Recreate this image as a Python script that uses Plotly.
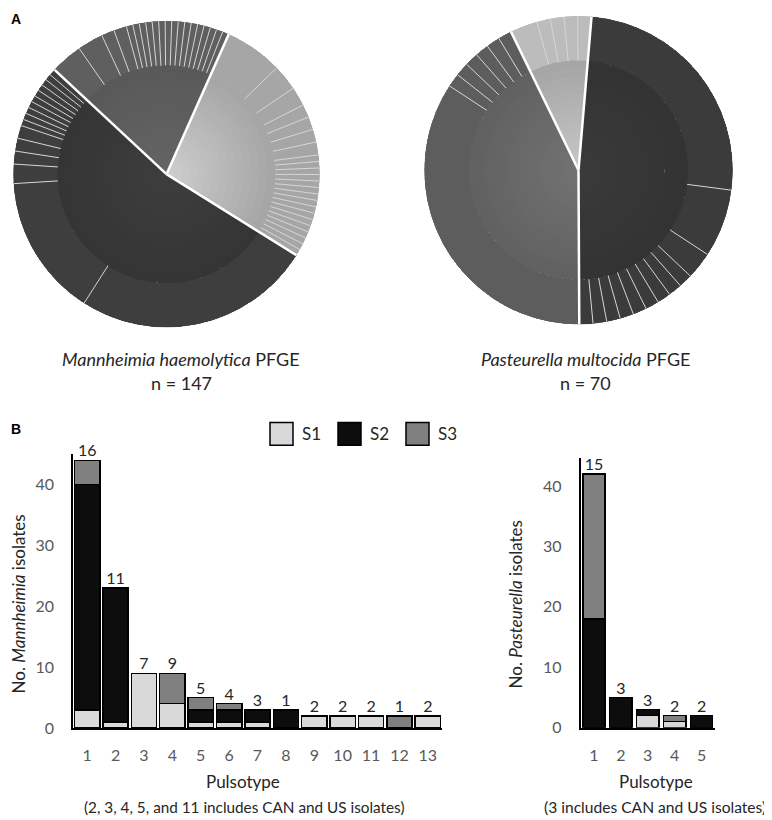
import plotly.graph_objects as go

# ---------------- data ----------------
serogroups = ["S1", "S2", "S3"]

# Panel A: outer ring = isolates per pulsotype within each group (inner pie = group totals)
mh_ring_s1 = [9, 4, 3, 2, 2, 2, 2, 1, 1, 1, 1, 1, 1, 1, 1, 1, 1, 1, 1, 1, 1, 1, 1]
mh_ring_s2 = [37, 22, 3, 2, 2, 2, 1, 1, 1, 1, 1, 1, 1, 1, 1, 1]
mh_ring_s3 = [5, 4, 2, 2, 1, 1, 1, 1, 1, 1, 1, 1, 1, 1, 1, 1, 1, 1, 1, 1]
pm_ring_s1 = [2, 1, 1, 1, 1]
pm_ring_s2 = [18, 5, 2, 1, 1, 1, 1, 1, 1, 1, 1, 1]
pm_ring_s3 = [24, 1, 1, 1, 1, 1, 1]

mh_title = "<i>Mannheimia haemolytica</i> PFGE"
pm_title = "<i>Pasteurella multocida</i> PFGE"
mh_n = "n = 147"
pm_n = "n = 70"

# Panel B: stacked bars
mh_pulsotypes = [1, 2, 3, 4, 5, 6, 7, 8, 9, 10, 11, 12, 13]
mh_s1 = [3, 1, 9, 4, 1, 1, 1, 0, 2, 2, 2, 0, 2]
mh_s2 = [37, 22, 0, 0, 2, 2, 2, 3, 0, 0, 0, 0, 0]
mh_s3 = [4, 0, 0, 5, 2, 1, 0, 0, 0, 0, 0, 2, 0]
mh_labels = ["16", "11", "7", "9", "5", "4", "3", "1", "2", "2", "2", "1", "2"]

pm_pulsotypes = [1, 2, 3, 4, 5]
pm_s1 = [0, 0, 2, 1, 0]
pm_s2 = [18, 5, 1, 0, 2]
pm_s3 = [24, 0, 0, 1, 0]
pm_labels = ["15", "3", "3", "2", "2"]

mh_yticks = [0, 10, 20, 30, 40]
pm_yticks = [0, 10, 20, 30, 40]

# ---------------- style ----------------
XOFF = 8                     # horizontal page margin observed in the viewer
W, H = 772 - XOFF, 820
FONT = "Lato, Calibri, sans-serif"
TXT = "#262626"
TICK = "#595959"
bar_colors = {"S1": "#d9d9d9", "S2": "#0d0d0d", "S3": "#808080"}
INNER_R = 0.71
N_BANDS = 14


def px(x):
    return (x - XOFF) / W


def py(y):
    return 1 - y / H


def mix(c1, c2, t):
    a = [int(c1[i:i + 2], 16) for i in (1, 3, 5)]
    b = [int(c2[i:i + 2], 16) for i in (1, 3, 5)]
    return "#" + "".join("%02x" % round(a[k] + (b[k] - a[k]) * t) for k in range(3))


fig = go.Figure()


def add_pie(rings, inner_centre, inner_edge, outer_cols, subplot):
    total = sum(sum(r) for r in rings)
    deg = 360.0 / total
    in_theta, in_w, in_base, in_c = [], [], [], []
    outer_theta, outer_w, outer_c = [], [], []
    seg_lines_r, seg_lines_t = [], []
    grp_lines_r, grp_lines_t = [], []
    pos = 0.0
    dr = INNER_R / N_BANDS
    for gi, ring in enumerate(rings):
        gsize = sum(ring) * deg
        for b in range(N_BANDS):
            in_theta.append(pos + gsize / 2)
            in_w.append(gsize)
            in_base.append(b * dr)
            in_c.append(mix(inner_centre[gi], inner_edge[gi], b / (N_BANDS - 1)))
        grp_lines_r += [0, 1, None]
        grp_lines_t += [pos, pos, None]
        p = pos
        for k, v in enumerate(ring):
            w = v * deg
            outer_theta.append(p + w / 2)
            outer_w.append(w)
            outer_c.append(outer_cols[gi])
            if k > 0:
                seg_lines_r += [INNER_R, 1, None]
                seg_lines_t += [p, p, None]
            p += w
        pos += gsize
    fig.add_trace(go.Barpolar(
        theta=outer_theta, width=outer_w, r=[1 - INNER_R] * len(outer_theta),
        base=INNER_R, marker=dict(color=outer_c, line=dict(color=outer_c, width=0.5)),
        subplot=subplot, showlegend=False, hoverinfo="skip"))
    fig.add_trace(go.Barpolar(
        theta=in_theta, width=in_w, r=[dr] * len(in_theta), base=in_base,
        marker=dict(color=in_c, line=dict(color=in_c, width=0.6)),
        subplot=subplot, showlegend=False, hoverinfo="skip"))
    fig.add_trace(go.Scatterpolar(
        r=seg_lines_r, theta=seg_lines_t, mode="lines",
        line=dict(color="#d6d6d6", width=1), subplot=subplot,
        showlegend=False, hoverinfo="skip"))
    fig.add_trace(go.Scatterpolar(
        r=grp_lines_r, theta=grp_lines_t, mode="lines",
        line=dict(color="#ffffff", width=2.5), subplot=subplot,
        showlegend=False, hoverinfo="skip"))


add_pie([mh_ring_s1, mh_ring_s2, mh_ring_s3],
        ["#cdcdcd", "#3d3d3d", "#646464"],
        ["#a6a6a6", "#353535", "#595959"],
        ["#a6a6a6", "#3e3e3e", "#5f5f5f"], "polar")
add_pie([pm_ring_s1, pm_ring_s2, pm_ring_s3],
        ["#c6c6c6", "#3a3a3a", "#727272"],
        ["#a6a6a6", "#333333", "#616161"],
        ["#bcbcbc", "#3b3b3b", "#5d5d5d"], "polar2")

# bars
for name, vals in zip(serogroups, [mh_s1, mh_s2, mh_s3]):
    fig.add_trace(go.Bar(x=mh_pulsotypes, y=vals, name=name, width=0.89,
                         marker=dict(color=bar_colors[name], line=dict(color="#000000", width=1.5)),
                         xaxis="x", yaxis="y", showlegend=False))
for name, vals in zip(serogroups, [pm_s1, pm_s2, pm_s3]):
    fig.add_trace(go.Bar(x=pm_pulsotypes, y=vals, name=name, width=0.83,
                         marker=dict(color=bar_colors[name], line=dict(color="#000000", width=1.5)),
                         xaxis="x2", yaxis="y2", showlegend=False))

mh_tot = [a + b + c for a, b, c in zip(mh_s1, mh_s2, mh_s3)]
pm_tot = [a + b + c for a, b, c in zip(pm_s1, pm_s2, pm_s3)]
fig.add_trace(go.Scatter(x=mh_pulsotypes, y=mh_tot, text=mh_labels, mode="text",
                         textposition="top center", textfont=dict(family=FONT, size=16, color=TXT),
                         xaxis="x", yaxis="y", showlegend=False, cliponaxis=False))
fig.add_trace(go.Scatter(x=pm_pulsotypes, y=pm_tot, text=pm_labels, mode="text",
                         textposition="top center", textfont=dict(family=FONT, size=16, color=TXT),
                         xaxis="x2", yaxis="y2", showlegend=False, cliponaxis=False))

hidden_angular = dict(visible=False, direction="clockwise", showgrid=False, showline=False,
                      showticklabels=False, ticks="")
hidden_radial = dict(visible=False, range=[0, 1], showgrid=False, showline=False,
                     showticklabels=False, ticks="")

xcommon = dict(showline=True, linecolor="#000000", linewidth=1.5, ticks="", showgrid=False,
               zeroline=False, tickfont=dict(family=FONT, size=16, color=TICK),
               ticklabelstandoff=12, fixedrange=True)
ycommon = dict(showline=True, linecolor="#000000", linewidth=1.5, ticks="", showgrid=False,
               zeroline=False, tickfont=dict(family=FONT, size=16, color=TICK),
               ticklabelstandoff=14, fixedrange=True)

fig.update_layout(
    width=W, height=H, margin=dict(l=0, r=0, t=0, b=0),
    paper_bgcolor="#ffffff", plot_bgcolor="rgba(0,0,0,0)",
    barmode="stack", showlegend=False,
    font=dict(family=FONT, color=TXT),
    polar=dict(domain=dict(x=[px(10), px(323)], y=[py(323), py(13)]),
               bgcolor="rgba(0,0,0,0)", bargap=0,
               angularaxis=dict(hidden_angular, rotation=66), radialaxis=hidden_radial),
    polar2=dict(domain=dict(x=[px(422), px(735)], y=[py(320), py(8)]),
                bgcolor="rgba(0,0,0,0)", bargap=0,
                angularaxis=dict(hidden_angular, rotation=116), radialaxis=hidden_radial),
    xaxis=dict(xcommon, domain=[px(73), px(442)], range=[0.5, 13.5],
               tickmode="array", tickvals=mh_pulsotypes, anchor="y"),
    yaxis=dict(ycommon, domain=[py(728), py(451.2)], range=[0, 45],
               tickmode="array", tickvals=mh_yticks, anchor="x"),
    xaxis2=dict(xcommon, domain=[px(580.5), px(715)], range=[0.5, 5.5],
                tickmode="array", tickvals=pm_pulsotypes, anchor="y2"),
    yaxis2=dict(ycommon, domain=[py(727.7), py(455.2)], range=[0, 44.6],
                tickmode="array", tickvals=pm_yticks, anchor="x2"),
)

ann = []


def text(x, y, s, size=17, anchor="center", angle=0, color=TXT, family=FONT):
    ann.append(dict(x=px(x), y=py(y), xref="paper", yref="paper", text=s, showarrow=False,
                    xanchor=anchor, yanchor="middle", textangle=angle,
                    font=dict(family=family, size=size, color=color)))


text(9, 11, "<b>A</b>", size=14, anchor="left", family="Liberation Sans, Arial, sans-serif", color="#000000")
text(9, 426, "<b>B</b>", size=14, anchor="left", family="Liberation Sans, Arial, sans-serif", color="#000000")
text(181, 355, mh_title, size=18)
text(181, 379, mh_n, size=18)
text(585, 355, pm_title, size=18)
text(585, 379, pm_n, size=18)
text(18, 603, "No. <i>Mannheimia</i> isolates", angle=-90)
text(515, 603, "No. <i>Pasteurella</i> isolates", angle=-90)
text(243, 782, "Pulsotype")
text(244, 808, "(2, 3, 4, 5, and 11 includes CAN and US isolates)", size=15.3)
text(656, 782, "Pulsotype")
text(655, 808, "(3 includes CAN and US isolates)", size=15.6)

# legend
shapes = []
leg_x = [270, 338, 406]
for name, x0 in zip(serogroups, leg_x):
    shapes.append(dict(type="rect", xref="paper", yref="paper",
                       x0=px(x0), x1=px(x0 + 23), y0=py(442), y1=py(419),
                       fillcolor=bar_colors[name], line=dict(color="#000000", width=1.5)))
    text(x0 + 30, 430.5, name, anchor="left")

fig.update_layout(annotations=ann, shapes=shapes)
fig.write_html("out.html")
